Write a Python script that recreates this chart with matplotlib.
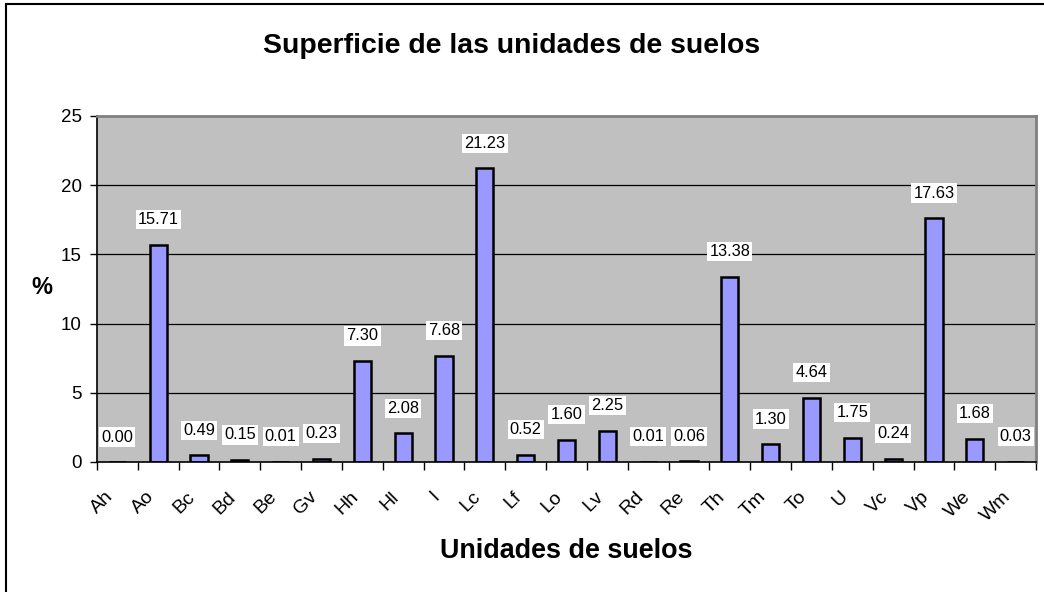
import matplotlib.pyplot as plt
import matplotlib.transforms as mtransforms
import numpy as np
from matplotlib.patches import Rectangle

plt.rcParams['font.family'] = ['Liberation Sans', 'DejaVu Sans']

unidades = ['Ah', 'Ao', 'Bc', 'Bd', 'Be', 'Gv', 'Hh', 'Hl', 'I', 'Lc', 'Lf', 'Lo',
            'Lv', 'Rd', 'Re', 'Th', 'Tm', 'To', 'U', 'Vc', 'Vp', 'We', 'Wm']
porcentaje = [0.00, 15.71, 0.49, 0.15, 0.01, 0.23, 7.30, 2.08, 7.68, 21.23, 0.52, 1.60,
              2.25, 0.01, 0.06, 13.38, 1.30, 4.64, 1.75, 0.24, 17.63, 1.68, 0.03]
yticks = [0, 5, 10, 15, 20, 25]

fig = plt.figure(figsize=(10.44, 5.92), dpi=100)
ax = fig.add_axes([97/1044, 1 - 462/592, 939/1044, 346/592])

# outer chart border (Excel style)
fig.patches.append(Rectangle((6/1044, -0.05), 1.2, 1 - 4/592 + 0.05,
                             transform=fig.transFigure, fill=False,
                             edgecolor='black', linewidth=1.5, clip_on=False))

x = np.arange(len(unidades))
ax.set_facecolor('#C0C0C0')
for v in yticks[1:-1]:
    ax.axhline(v, color='black', linewidth=0.9, zorder=1)

ax.bar(x, porcentaje, width=0.42, color='#9999FF', edgecolor='black',
       linewidth=1.8, zorder=2)

for xi, v in zip(x, porcentaje):
    ax.annotate(f'{v:.2f}', (xi, v), xytext=(0, 18), textcoords='offset points',
                ha='center', va='center', fontsize=11.8, zorder=3,
                bbox=dict(facecolor='white', edgecolor='none', pad=1.5))

ax.set_xlim(-0.5, len(unidades) - 0.5)
ax.set_ylim(0, 25)
ax.set_yticks(yticks)
ax.tick_params(axis='y', labelsize=13.5, length=5, width=1, direction='out', pad=6)

# category ticks between bars, labels centred under bars
ax.set_xticks(np.arange(len(unidades) + 1) - 0.5)
ax.set_xticklabels([])
ax.set_xticks(x, minor=True)
ax.set_xticklabels(unidades, minor=True, rotation=45, ha='right',
                   rotation_mode='anchor', fontsize=14)
ax.tick_params(axis='x', which='major', length=6, width=1, direction='out')
ax.tick_params(axis='x', which='minor', length=0, pad=19)
shift = mtransforms.ScaledTranslation(-13/100, 0, fig.dpi_scale_trans)
for lbl in ax.get_xticklabels(minor=True):
    lbl.set_transform(lbl.get_transform() + shift)

for side in ['top', 'right']:
    ax.spines[side].set_color('#808080')
    ax.spines[side].set_linewidth(2)
ax.spines['left'].set_linewidth(1.2)
ax.spines['bottom'].set_linewidth(1.2)

fig.text(512/1044, 1 - 53/592, 'Superficie de las unidades de suelos',
         ha='center', va='baseline', fontsize=20.4, fontweight='bold')
fig.text(566/1044, 1 - 558/592, 'Unidades de suelos',
         ha='center', va='baseline', fontsize=19.4, fontweight='bold')
fig.text(42/1044, 1 - 288/592, '%', ha='center', va='center',
         fontsize=17, fontweight='bold')

fig.savefig('out.png', dpi=100)
